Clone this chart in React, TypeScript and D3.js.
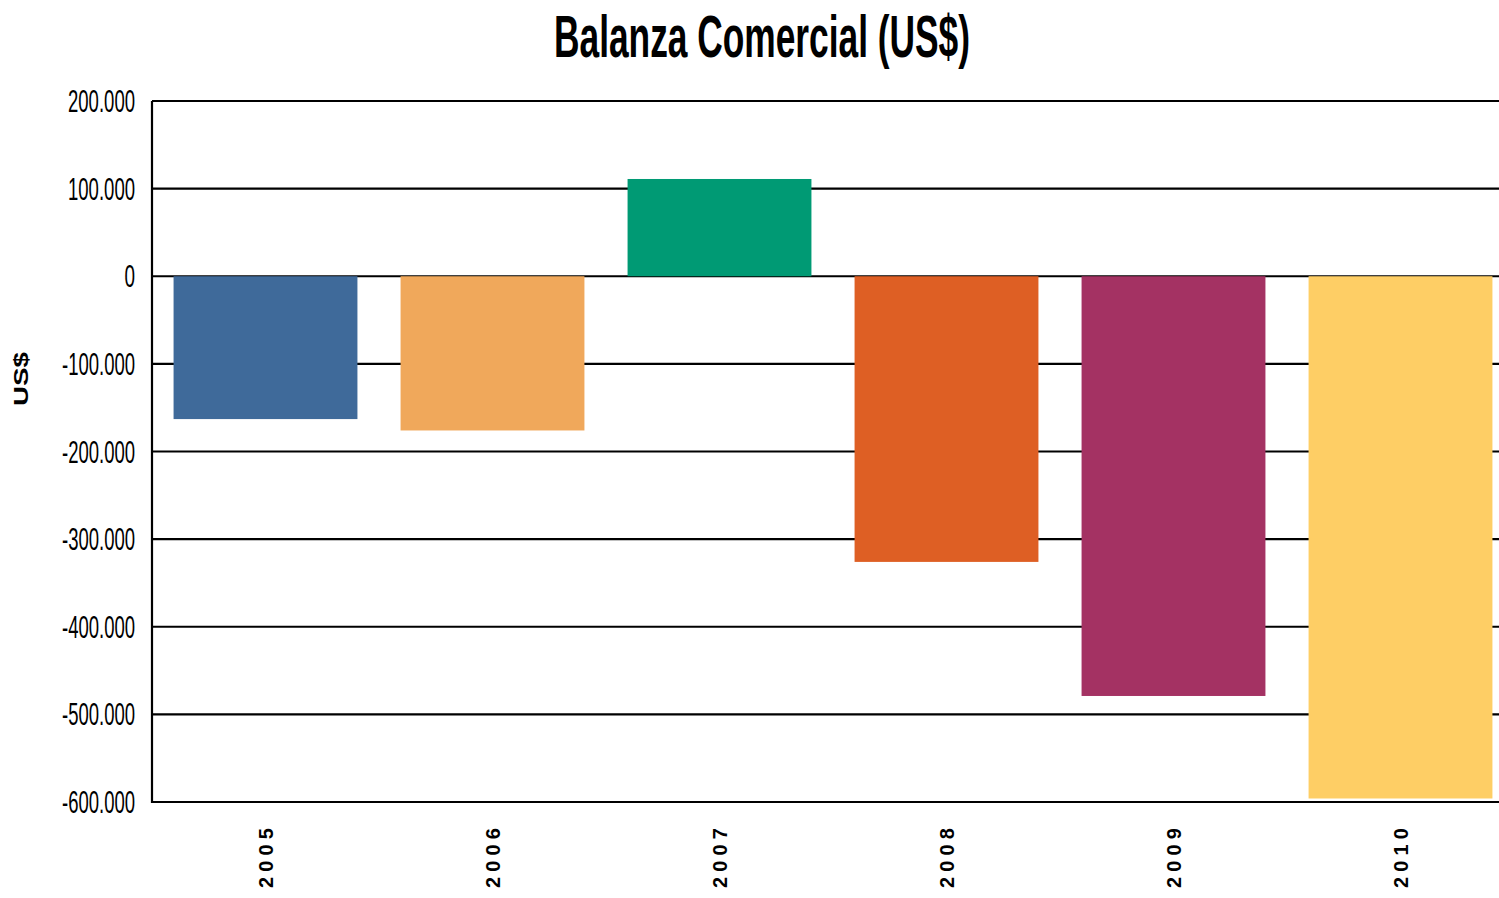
import React, { useEffect, useRef } from 'react';
import * as d3 from 'd3';

const years = ['2005', '2006', '2007', '2008', '2009', '2010'];
const balance = [-163000, -176000, 111000, -326000, -479000, -596000];
const barColors = ['#3F6A9A', '#F0A85B', '#009A74', '#DE5F24', '#A43263', '#FECE65'];
const yTicks = [200000, 100000, 0, -100000, -200000, -300000, -400000, -500000, -600000];

const W = 1499;
const H = 898;
const sans = '"Liberation Sans", Arial, sans-serif';

const App = () => {
  const ref = useRef<SVGSVGElement>(null);

  useEffect(() => {
    const svg = d3.select(ref.current);
    svg.selectAll('*').remove();

    const left = 152, top = 101, bottom = 802;

    const x = d3.scaleBand<string>()
      .domain(years)
      .range([left, 1514])
      .paddingInner(0.19)
      .paddingOuter(0.095);

    const y = d3.scaleLinear().domain([-600000, 200000]).range([bottom, top]);

    const fmt = d3.formatLocale({ decimal: ',', thousands: '.', grouping: [3], currency: ['$', ''], minus: '-' }).format(',.0f');

    // squeezed label width, like the narrow font of the original
    const labelWidth = (s: string) => {
      let w = 0;
      for (const c of s) w += c === '.' ? 4 : c === '-' ? 6 : 10.5;
      return w;
    };

    // title
    svg.append('text')
      .attr('x', 762)
      .attr('y', 57)
      .attr('text-anchor', 'middle')
      .attr('textLength', 416)
      .attr('lengthAdjust', 'spacingAndGlyphs')
      .style('font-family', sans)
      .style('font-weight', 'bold')
      .style('font-size', '60px')
      .style('fill', '#000')
      .text('Balanza Comercial (US$)');

    // gridlines
    svg.append('g')
      .selectAll('line')
      .data(yTicks)
      .enter()
      .append('line')
      .attr('x1', left)
      .attr('x2', W)
      .attr('y1', d => y(d))
      .attr('y2', d => y(d))
      .attr('stroke', '#000')
      .attr('stroke-width', 2.2);

    // y labels
    svg.append('g')
      .selectAll('text')
      .data(yTicks)
      .enter()
      .append('text')
      .attr('x', 135)
      .attr('y', d => y(d) + 11)
      .attr('text-anchor', 'end')
      .attr('textLength', d => labelWidth(fmt(d)))
      .attr('lengthAdjust', 'spacingAndGlyphs')
      .style('font-family', sans)
      .style('font-size', '31px')
      .style('fill', '#000')
      .text(d => fmt(d));

    // bars
    svg.append('g')
      .selectAll('rect')
      .data(years)
      .enter()
      .append('rect')
      .attr('x', d => x(d)!)
      .attr('width', x.bandwidth())
      .attr('y', (d, i) => y(Math.max(0, balance[i])))
      .attr('height', (d, i) => Math.abs(y(balance[i]) - y(0)))
      .attr('fill', (d, i) => barColors[i]);

    // left axis line
    svg.append('line')
      .attr('x1', left)
      .attr('x2', left)
      .attr('y1', top)
      .attr('y2', bottom + 1)
      .attr('stroke', '#000')
      .attr('stroke-width', 2.2);

    // x labels
    svg.append('g')
      .selectAll('text')
      .data(years)
      .enter()
      .append('text')
      .attr('transform', d => `translate(${x(d)! + x.bandwidth() / 2 + 7},888) rotate(-90)`)
      .attr('text-anchor', 'start')
      .attr('textLength', 60)
      .attr('lengthAdjust', 'spacing')
      .style('font-family', sans)
      .style('font-weight', 'bold')
      .style('font-size', '20px')
      .style('fill', '#000')
      .text(d => d);

    // y axis title
    svg.append('text')
      .attr('transform', 'translate(28,406) rotate(-90)')
      .attr('text-anchor', 'start')
      .attr('textLength', 54)
      .attr('lengthAdjust', 'spacingAndGlyphs')
      .style('font-family', sans)
      .style('font-weight', 'bold')
      .style('font-size', '21px')
      .style('fill', '#000')
      .text('US$');
  }, []);

  return (
    <svg ref={ref} width={W} height={H} style={{ position: 'absolute', left: 0, top: 0, background: '#fff' }}></svg>
  );
};

export default App;
